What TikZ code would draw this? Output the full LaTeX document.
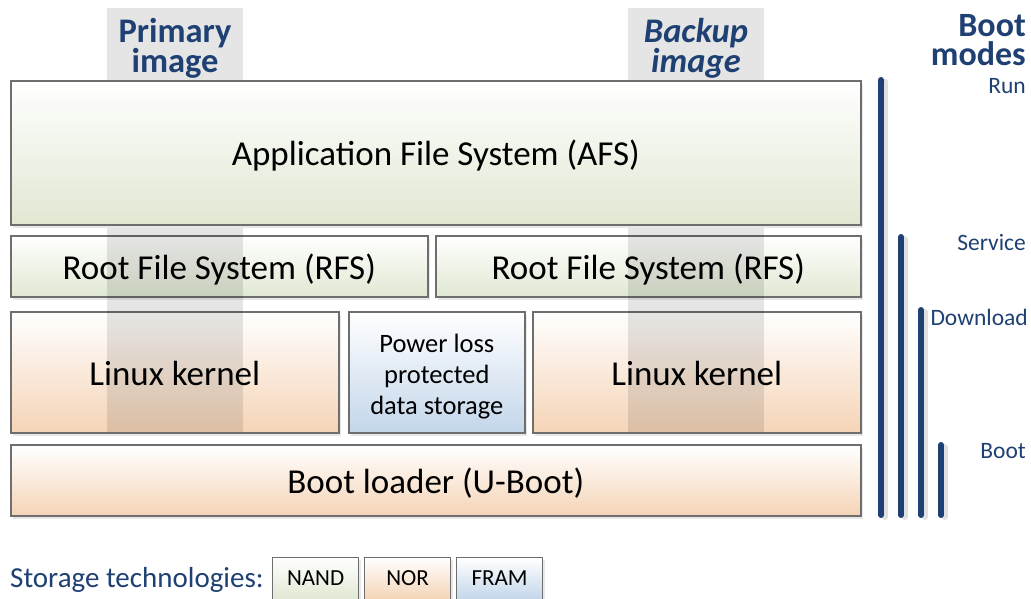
\documentclass[tikz,border=0pt]{standalone}
\usepackage{fontspec}
\setmainfont{Carlito}
\usetikzlibrary{shadows}
\definecolor{navy}{HTML}{1F4073}
\definecolor{grnB}{HTML}{E0E8D2}
\definecolor{orgB}{HTML}{F5D4B6}
\definecolor{bluB}{HTML}{C3D6EA}
\definecolor{edge}{HTML}{6E6E6E}
\tikzset{
  box/.style={draw=edge, line width=1.6pt, anchor=north west, inner sep=0pt,
    drop shadow={shadow xshift=2.5pt, shadow yshift=-3pt, fill=black!9, opacity=1},
    font=\fontsize{35}{40}\selectfont, text height=33pt, text depth=7pt},
  grn/.style={box, top color=white, bottom color=grnB},
  org/.style={box, top color=white, bottom color=orgB},
  blu/.style={box, top color=white, bottom color=bluB},
  col/.style={fill=black, fill opacity=0.1, draw=none},
  head/.style={text=navy, font=\bfseries\fontsize{34.5}{30}\selectfont, align=center},
  bmode/.style={text=navy, font=\bfseries\fontsize{34}{30}\selectfont, anchor=east, inner sep=0pt},
  mode/.style={text=navy, font=\fontsize{23.5}{24}\selectfont, anchor=east, inner sep=0pt},
  bar/.style={draw=navy, line width=6pt, line cap=round},
  barsh/.style={draw=black!12, line width=6pt, line cap=round},
  leg/.style={draw=edge, line width=1.2pt, anchor=north west, minimum width=86pt, minimum height=42pt,
    inner sep=0pt, font=\fontsize{23}{24}\selectfont,
    drop shadow={shadow xshift=2pt, shadow yshift=-2pt, fill=black!9, opacity=1}}
}
\begin{document}
\begin{tikzpicture}[x=1pt,y=-1pt]
\useasboundingbox (0,0) rectangle (1031,598);
% lower layers
\node[grn, minimum width=417pt, minimum height=61pt] (rfsL) at (10,235) {Root File System (RFS)};
\node[grn, minimum width=425pt, minimum height=61pt] (rfsR) at (435,235) {Root File System (RFS)};
\node[org, minimum width=328pt, minimum height=121pt] (kerL) at (10,311) {Linux kernel};
\node[blu, minimum width=176pt, minimum height=121pt] (pl) at (348,311) {};
\node[font=\fontsize{26.5}{31}\selectfont, align=center, inner sep=0pt] (plt) at ([yshift=-4pt]pl.center) {Power loss\\protected\\data storage};
\node[org, minimum width=328pt, minimum height=121pt] (kerR) at (532,311) {Linux kernel};
\node[org, minimum width=850pt, minimum height=71pt] (boot) at (10,444) {Boot loader (U-Boot)};
% image columns
\path[col] (107,8) rectangle (243,432);
\path[col] (628,8) rectangle (764,432);
% top layer
\node[grn, minimum width=850pt, minimum height=144pt] (afs) at (10,80) {Application File System (AFS)};
\node[head] (prim) at (175,48) {Primary\\image};
\node[head] (back) at (696,48) {\itshape Backup\\\itshape image};
% boot modes
\node[bmode] (bm1) at (1026,26) {Boot};
\node[bmode] (bm2) at (1026,54) {modes};
\node[mode] (run) at (1026,86) {Run};
\node[mode] (srv) at (1026,242) {Service};
\node[mode] (dl) at (1028,317) {Download};
\node[mode] (bt) at (1026,451) {Boot};
\coordinate (r1) at (881,80);  \coordinate (r0) at (881,515);
\coordinate (s1) at (901,237); \coordinate (s0) at (901,515);
\coordinate (d1) at (921,310); \coordinate (d0) at (921,515);
\coordinate (b1) at (941,445); \coordinate (b0) at (941,515);
\foreach \a/\b in {r1/r0,s1/s0,d1/d0,b1/b0}{
  \draw[barsh] ([xshift=4pt,yshift=-2pt]\a) -- ([xshift=4pt,yshift=-2pt]\b);
  \draw[bar] (\a) -- (\b);
}
% legend
\node[anchor=west, inner sep=0pt, text=navy, font=\fontsize{29}{30}\selectfont] (st) at (10,580) {Storage technologies:};
\node[leg, top color=white, bottom color=grnB] (nand) at (272,557) {NAND};
\node[leg, top color=white, bottom color=orgB] (nor) at (364,557) {NOR};
\node[leg, top color=white, bottom color=bluB] (fram) at (456,557) {FRAM};
\end{tikzpicture}
\end{document}
